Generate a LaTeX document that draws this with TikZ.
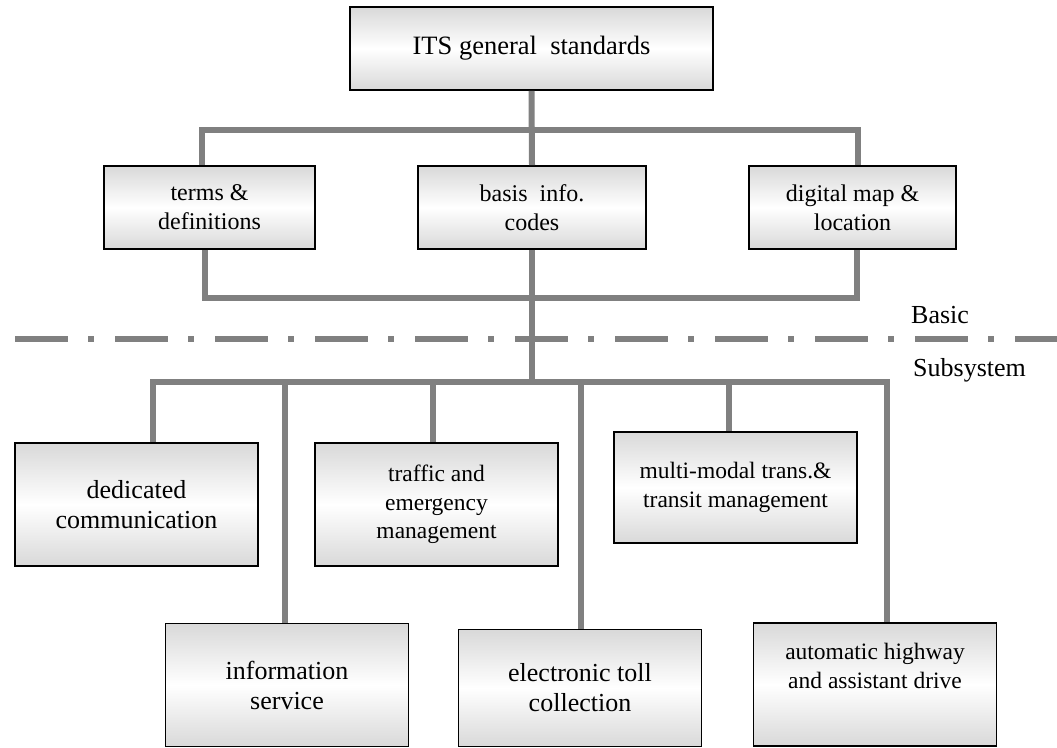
\documentclass[tikz,border=0pt]{standalone}
\usepackage{fontspec}
\setmainfont{Liberation Serif}
\tikzset{
  box/.style={draw=black, line width=1.8pt, top color=gray!30, bottom color=gray!30,
    middle color=white, inner sep=0pt, align=center},
  bigbox/.style={box, minimum width=243pt, minimum height=123pt},
  midbox/.style={box, minimum height=83pt, font=\fontsize{24}{29}\selectfont},
  conn/.style={draw=gray, line width=6pt, line join=miter},
  sep/.style={draw=gray, line width=6pt, dash pattern=on 53pt off 20pt on 6pt off 21pt},
  lbl/.style={anchor=west, inner sep=0pt, font=\fontsize{26}{30}\selectfont},
  big/.style={font=\fontsize{26}{30}\selectfont},
  small/.style={font=\fontsize{23.5}{28.5}\selectfont}
}
% text set near the top of a subsystem box
\newcommand{\toptext}[1]{\parbox[c][82pt][t]{240pt}{\centering #1}}
\begin{document}
\begin{tikzpicture}[x=1pt,y=-1pt]
\useasboundingbox (0,0) rectangle (1057,747);

% top level
\node[box, minimum width=363pt, minimum height=83pt, font=\fontsize{26.5}{30}\selectfont]
  (top) at (531.5,48.5) {ITS general\ \ standards};

% basic standards
\node[midbox, minimum width=211pt] (terms)   at (209.5,207.5) {terms \&\\definitions};
\node[midbox, minimum width=228pt] (basis)   at (532,207.5)   {basis\ \ info.\\codes};
\node[midbox, minimum width=207pt] (digital) at (852.5,207.5) {digital map \&\\location};

% subsystems
\node[bigbox, big]   (ded)     at (136.5,504.5) {dedicated\\communication};
\node[bigbox, small] (traffic) at (436.5,504.5) {\raisebox{3pt}{\parbox{240pt}{\centering traffic and\\emergency\\management}}};
\node[bigbox, small, minimum height=111pt] (multi) at (735.5,487.5)
  {\raisebox{4pt}{\parbox{240pt}{\centering multi-modal trans.\&\\transit management}}};
\node[bigbox, big]   (info)    at (287,685)     {information\\service};
\node[bigbox, big, minimum height=117pt] (toll) at (580,688) {electronic toll\\collection};
\node[bigbox, small] (auto)    at (875,684.5)   {\toptext{automatic highway\\and assistant drive}};

% upper bus
\coordinate (tl) at (202,130);
\coordinate (tr) at (858,130);
\draw[conn] (top.south) -- (basis.north);
\draw[conn] (terms.north -| tl) -- (tl) -- (tr) -- (digital.north -| tr);

% lower bus of the basic level
\coordinate (ll) at (205,298);
\coordinate (lr) at (857,298);
\draw[conn] (terms.south -| ll) -- (ll) -- (lr) -- (digital.south -| lr);

% separator between levels
\coordinate (s1) at (15,339);
\coordinate (s2) at (1057,339);
\draw[sep] (s1) -- (s2);
\node[lbl] (basic) at (911,315) {Basic};
\node[lbl] (subsys) at (913,370) {Subsystem};

% subsystem bus
\coordinate (bl) at (153,382);
\coordinate (br) at (887,382);
\coordinate (d2) at (285,382);
\coordinate (d3) at (433,382);
\coordinate (d4) at (581,382);
\coordinate (d5) at (729,382);
\draw[conn] (basis.south) -- (basis.south |- bl);
\draw[conn] (ded.north -| bl) -- (bl) -- (br) -- (auto.north -| br);
\draw[conn] (d2) -- (info.north -| d2);
\draw[conn] (d3) -- (traffic.north -| d3);
\draw[conn] (d4) -- (toll.north -| d4);
\draw[conn] (d5) -- (multi.north -| d5);
\end{tikzpicture}
\end{document}
